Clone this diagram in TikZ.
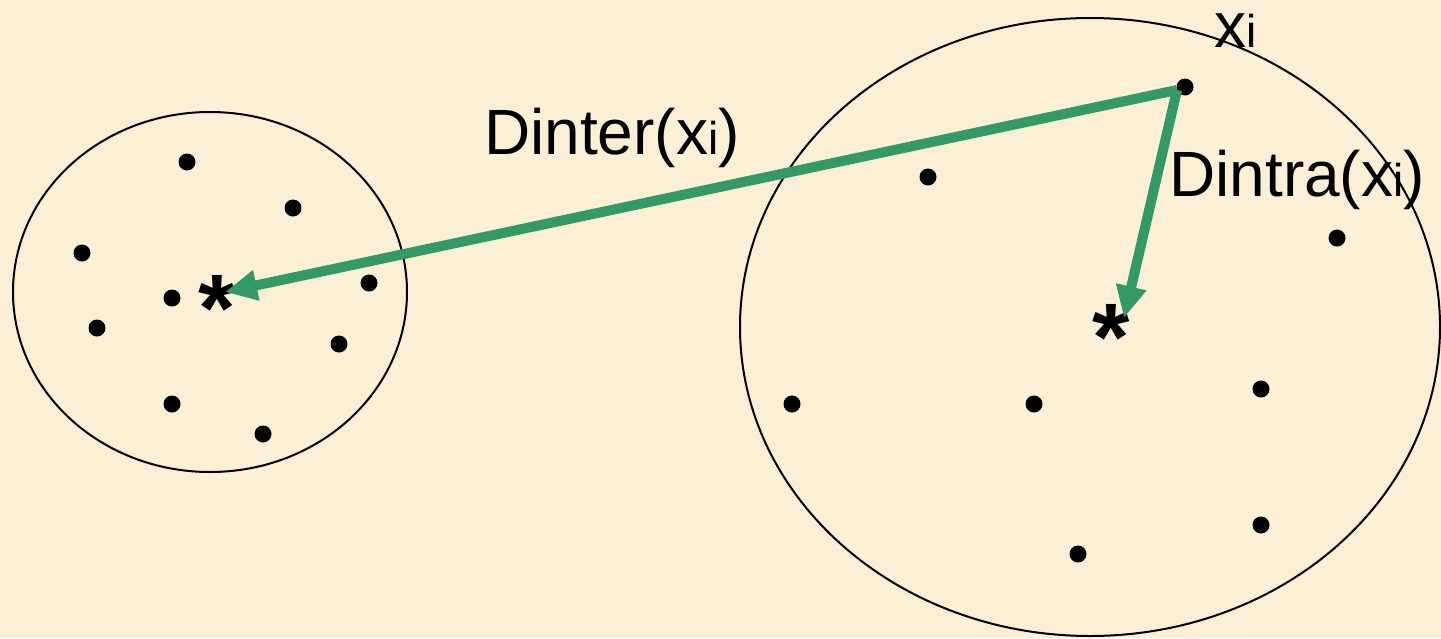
\documentclass[tikz,border=0pt]{standalone}
\usepackage{fontspec}
\setmainfont{Liberation Sans}
\usetikzlibrary{arrows.meta}
\definecolor{bg}{HTML}{FBF0D6}
\definecolor{arrowgreen}{HTML}{339966}
\newcommand{\bigxi}{x{\fontsize{46}{46}\selectfont i}}
\tikzset{
  pt/.style={circle,fill=black,inner sep=0pt,minimum size=17pt},
  lbl/.style={anchor=base west,inner sep=0pt,font=\fontsize{64}{68}\selectfont},
  starlbl/.style={anchor=base,inner sep=0pt,font=\bfseries\fontsize{96}{96}\selectfont},
  distarrow/.style={draw=arrowgreen,line width=10pt,-{Triangle[length=32pt,width=29pt]}},
  clusterline/.style={draw=black,line width=2pt}
}
\begin{document}
\begin{tikzpicture}[x=1pt,y=-1pt]
\fill[bg] (0,0) rectangle (1441,638);
\useasboundingbox (0,0) rectangle (1441,638);
% clusters
\draw[clusterline] (210,292) ellipse[x radius=197,y radius=180];
\draw[clusterline] (1090,327) ellipse[x radius=350,y radius=309];
% left cluster points
\node[pt] (l1) at (187,162) {};
\node[pt] (l2) at (293,208) {};
\node[pt] (l3) at (82,253) {};
\node[pt] (l4) at (172,298) {};
\node[pt] (l5) at (369,283) {};
\node[pt] (l6) at (97,328) {};
\node[pt] (l7) at (339,344) {};
\node[pt] (l8) at (172,404) {};
\node[pt] (l9) at (263,434) {};
% right cluster points
\node[pt] (xi) at (1185,87) {};
\node[pt] (r2) at (928,177) {};
\node[pt] (r3) at (1337,238) {};
\node[pt] (r4) at (792,404) {};
\node[pt] (r5) at (1034,404) {};
\node[pt] (r6) at (1261,389) {};
\node[pt] (r7) at (1261,525) {};
\node[pt] (r8) at (1078,554) {};
% centroids
\node[starlbl] (cl) at (217,341) {*};
\node[starlbl] (cr) at (1111,370) {*};
\coordinate (tipL) at (225,292);
\coordinate (tipR) at (1124,318);
\coordinate (src) at (1177,90);
% arrows
\draw[distarrow] (src) -- (tipL);
\draw[distarrow] (src) -- (tipR);
% labels
\node[lbl] (dinter) at (484,154) {Dinter(\bigxi)};
\node[lbl] (dintra) at (1169,196) {Dintra(\bigxi)};
\node[lbl] (xlabel) at (1214,47) {\bigxi};
\end{tikzpicture}
\end{document}
